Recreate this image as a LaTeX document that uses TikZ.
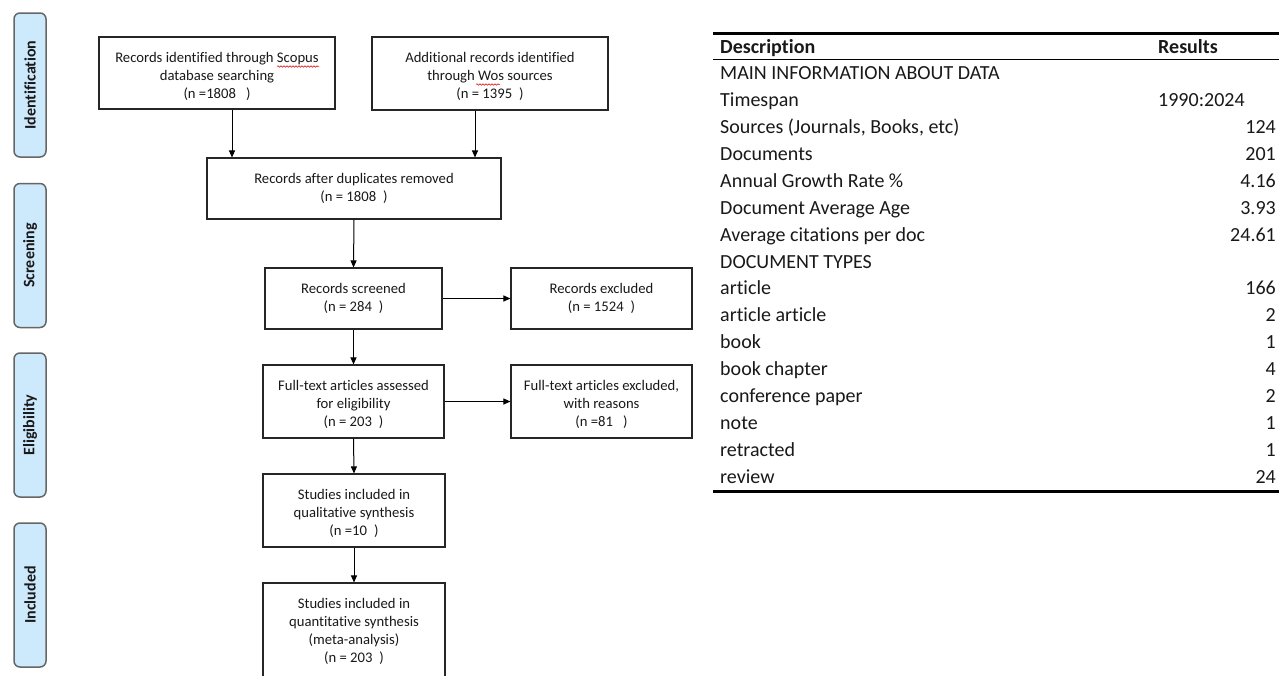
\documentclass[tikz,border=0pt]{standalone}
\usepackage{fontspec}
\setmainfont{Carlito}[Ligatures={NoCommon}]
\usetikzlibrary{arrows.meta,decorations.pathmorphing}
\newcommand{\bxt}[3]{\parbox[c][#2][t]{#1}{\centering\fontsize{14.67}{18}\selectfont\vspace*{15pt}#3\par}}
\begin{document}
\begin{tikzpicture}[x=1pt,y=-1pt,
  flowbox/.style={draw=black!85, line width=1.1pt, inner sep=0pt, text=black!90},
  side/.style={draw=black!60, line width=1.5pt, fill={rgb,255:red,205;green,233;blue,252}, rounded corners=6pt, minimum width=32pt, minimum height=144pt, inner sep=0pt},
  sidetxt/.style={rotate=90, font=\fontsize{16}{18}\selectfont\bfseries, text=black!90},
  arr/.style={line width=1pt, -{Triangle[length=7pt,width=6pt]}},
  desc/.style={anchor=base west, font=\fontsize{20}{24}\selectfont, text=black!90, inner sep=0pt},
  val/.style={anchor=base east, font=\fontsize{20}{24}\selectfont, text=black!90, inner sep=0pt},
  squig/.style={red!85!black, line width=0.5pt, decorate, decoration={snake, amplitude=0.8pt, segment length=3pt}}
]
\clip (0,0) rectangle (1279,675);
\fill[white] (0,0) rectangle (1279,675);

% side labels
\node[side] (s1) at (30,85) {};
\node[sidetxt] (t1) at (s1.center) {Identification};
\node[side] (s2) at (30,255.5) {};
\node[sidetxt] (t2) at (s2.center) {Screening};
\node[side] (s3) at (30,425) {};
\node[sidetxt] (t3) at (s3.center) {Eligibility};
\node[side] (s4) at (30,595) {};
\node[sidetxt] (t4) at (s4.center) {Included};

% flow boxes
\node[flowbox] (b1) at (217,73) {\bxt{236pt}{72pt}{Records identified through Scopus\\database searching\\(n =1808\hspace{10pt})}};
\node[flowbox] (b2) at (490,73.5) {\bxt{236pt}{73pt}{Additional records identified\\through Wos sources\\(n = 1395\hspace{7pt})}};
\node[flowbox] (b3) at (354,188.5) {\bxt{294pt}{61pt}{Records after duplicates removed\\(n = 1808\hspace{7pt})}};
\node[flowbox] (b4) at (353.5,298.5) {\bxt{177pt}{61pt}{Records screened\\(n = 284\hspace{7pt})}};
\node[flowbox] (b5) at (601.5,298.5) {\bxt{181pt}{61pt}{Records excluded\\(n = 1524\hspace{7pt})}};
\node[flowbox] (b6) at (353.5,401.5) {\bxt{181pt}{73pt}{Full-text articles assessed\\for eligibility\\(n = 203\hspace{7pt})}};
\node[flowbox] (b7) at (601.5,401.5) {\bxt{181pt}{73pt}{Full-text articles excluded,\\with reasons\\(n =81\hspace{10pt})}};
\node[flowbox] (b8) at (354,510.5) {\bxt{182pt}{73pt}{Studies included in\\qualitative synthesis\\(n =10\hspace{7pt})}};
\node[flowbox] (b9) at (354,641.5) {\bxt{182pt}{117pt}{Studies included in\\quantitative synthesis\\(meta-analysis)\\(n = 203\hspace{7pt})}};

% spell-check marks
\draw[squig] (277,66.5) -- (319,66.5);
\draw[squig] (476,84.5) -- (500,84.5);

% connectors
\coordinate (c1) at (232,0);
\coordinate (c2) at (475,0);
\draw[arr] (b1.south -| c1) -- (b3.north -| c1);
\draw[arr] (b2.south -| c2) -- (b3.north -| c2);
\draw[arr] (b3.south) -- (b4.north);
\draw[arr] (b4.south) -- (b6.north);
\draw[arr] (b6.south) -- (b8.north);
\draw[arr] (b8.south) -- (b9.north);
\draw[arr] (b4.east) -- (b5.west);
\draw[arr] (b6.east) -- (b7.west);

% table
\coordinate (tl) at (713,33);
\coordinate (tr) at (1279,33);
\draw[line width=3pt] (tl) -- (tr);
\draw[line width=1pt] (713,59) -- (1279,59);
\draw[line width=3pt] (713,491) -- (1279,491);
\node[desc, font=\fontsize{20}{24}\selectfont\bfseries] (hd) at (720,53.5) {Description};
\node[desc, font=\fontsize{20}{24}\selectfont\bfseries] (hr) at (1158,53.5) {Results};
\foreach \i/\d in {0/MAIN INFORMATION ABOUT DATA,1/Timespan,2/{Sources (Journals, Books, etc)},3/Documents,4/Annual Growth Rate \%,5/Document Average Age,6/Average citations per doc,7/DOCUMENT TYPES,8/article,9/article article,10/book,11/book chapter,12/conference paper,13/note,14/retracted,15/review}{
  \node[desc] (d\i) at (720,{79.5+26.93*\i}) {\d};
}
\node[desc] (v1) at (1158,{79.5+26.93*1}) {1990:2024};
\foreach \i/\v in {2/124,3/201,4/4.16,5/3.93,6/24.61,8/166,9/2,10/1,11/4,12/2,13/1,14/1,15/24}{
  \node[val] (v\i) at (1276,{79.5+26.93*\i}) {\v};
}
\end{tikzpicture}
\end{document}
